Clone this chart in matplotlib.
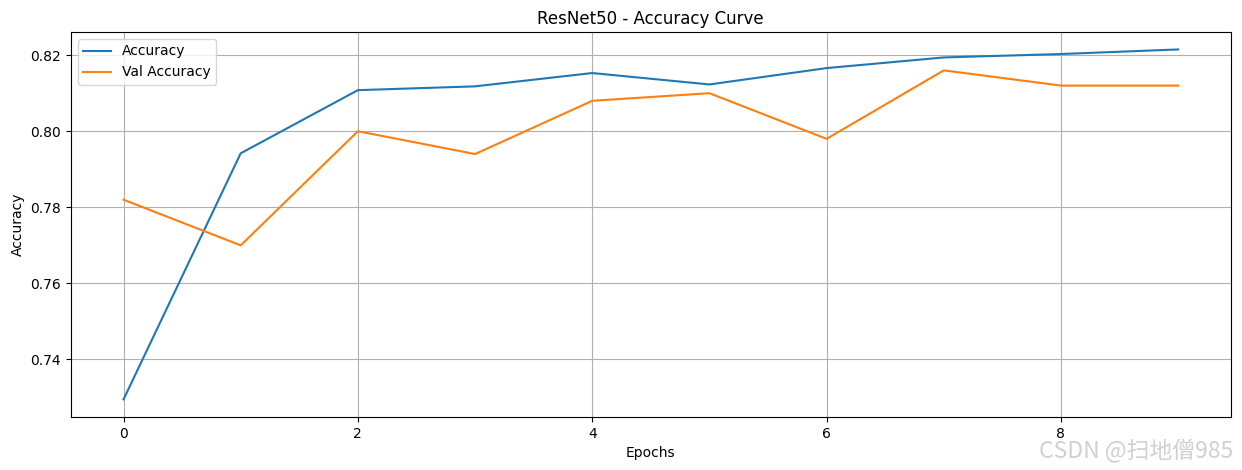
import numpy as np
import matplotlib.pyplot as plt

epochs = list(range(10))
accuracy = [0.7295, 0.7942, 0.8108, 0.8118, 0.8153, 0.8123, 0.8166, 0.8194, 0.8203, 0.8215]
val_accuracy = [0.782, 0.770, 0.800, 0.794, 0.808, 0.810, 0.798, 0.816, 0.812, 0.812]

fig = plt.figure(figsize=(12.42, 4.7), dpi=100)
ax = fig.add_subplot(111)
fig.subplots_adjust(left=0.057, right=0.991, top=0.932, bottom=0.113)

ax.plot(epochs, accuracy, label="Accuracy")
ax.plot(epochs, val_accuracy, label="Val Accuracy")
ax.set_title("ResNet50 - Accuracy Curve")
ax.set_xlabel("Epochs")
ax.set_ylabel("Accuracy")
ax.legend(loc="upper left")
ax.grid(True)

# watermark
fig.text(0.993, 0.015, "CSDN @扫地僧985", ha="right", va="bottom", fontsize=16.5,
         color="#d0d0d0", family=["Noto Sans CJK SC", "DejaVu Sans"])

fig.savefig("out.png", dpi=100)
